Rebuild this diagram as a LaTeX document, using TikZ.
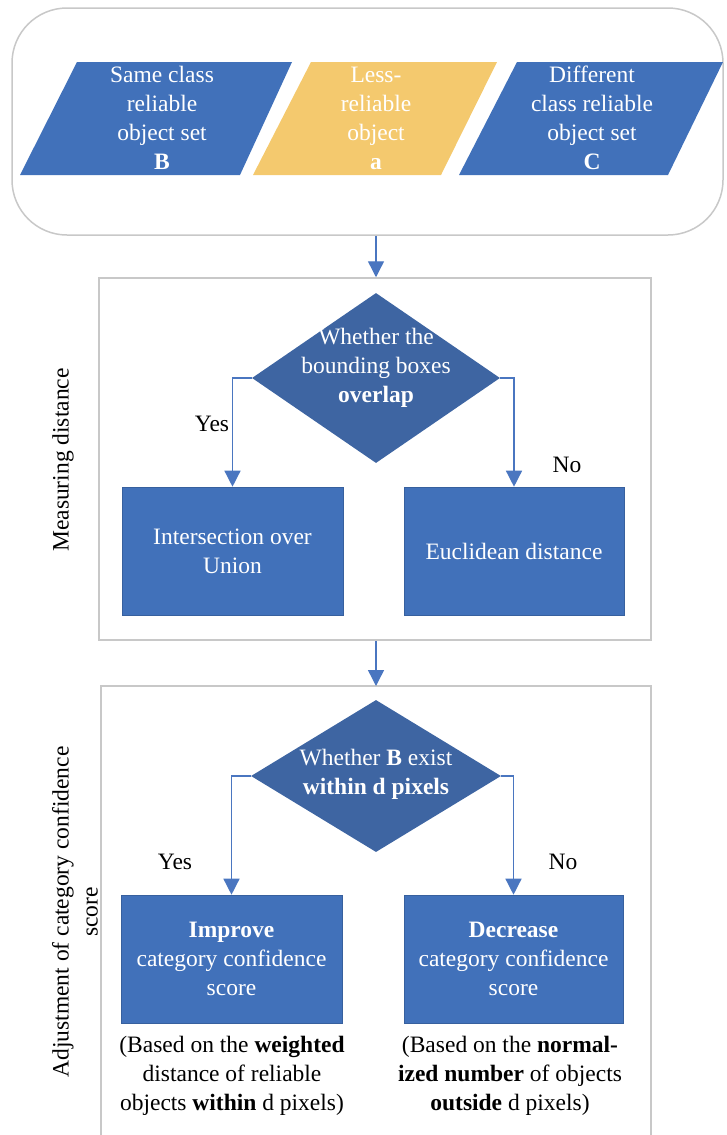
\documentclass[tikz,border=0pt]{standalone}
\usepackage{fontspec}
\setmainfont{Liberation Serif}
\usetikzlibrary{shapes.geometric,arrows.meta}
\definecolor{boxblue}{HTML}{4171BA}
\definecolor{diablue}{HTML}{3E65A2}
\definecolor{gold}{HTML}{F4C96E}
\definecolor{frame}{HTML}{C8C8C8}
\definecolor{linkblue}{HTML}{4A76C0}
\tikzset{
  txt/.style={font=\fontsize{23.5}{29}\selectfont, align=center, inner sep=0pt},
  wtxt/.style={txt, text=white},
  container/.style={draw=frame, line width=1.5pt, inner sep=0pt},
  stepbox/.style={fill=boxblue, draw=boxblue!85!black, line width=0.6pt, wtxt},
  decide/.style={diamond, fill=diablue, inner sep=0pt},
  arr/.style={draw=linkblue, line width=1.4pt, -{Triangle[width=16pt,length=16pt]}},
}
\begin{document}
\begin{tikzpicture}[x=1pt,y=-1pt]
\useasboundingbox (0,0) rectangle (726,1135);
% top container
\node[container, rounded corners=55pt, minimum width=711pt, minimum height=227pt] (top) at (367.5,121.5) {};
% parallelograms
\fill[boxblue] (77,62) -- (292,62) -- (240,175) -- (20,175) -- cycle;
\fill[gold] (311,62) -- (497,62) -- (441,175) -- (253,175) -- cycle;
\fill[boxblue] (517,62) -- (723,62) -- (668,175) -- (459,175) -- cycle;
\node[wtxt] (setB) at (162,118) {Same class\\reliable\\object set\\\textbf{B}};
\node[wtxt] (obja) at (376,118) {Less-\\reliable\\object\\\textbf{a}};
\node[wtxt] (setC) at (592,118) {Different\\class reliable\\object set\\\textbf{C}};
% box 2
\node[container, minimum width=552pt, minimum height=362pt] (box2) at (375,459) {};
\node[decide, minimum width=248pt, minimum height=170pt] (d1) at (376,378) {};
\node[wtxt] (d1t) at (376,368) {Whether the\\bounding boxes\\\textbf{overlap}};
\node[stepbox, minimum width=221pt, minimum height=128pt] (iou) at (232.5,551) {Intersection over\\Union};
\node[stepbox, minimum width=220pt, minimum height=128pt] (euc) at (514,551) {Euclidean distance};
\node[txt] (yes1) at (212,424) {Yes};
\node[txt] (no1) at (567,465) {No};
\node[txt, rotate=90] (lab1) at (63,460) {Measuring distance};
% box 3
\draw[frame, line width=1.5pt] (101,1160) -- (101,686) -- (651,686) -- (651,1160);
\coordinate (box3top) at (376,686);
\node[decide, minimum width=250pt, minimum height=152pt] (d2) at (376,776) {};
\node[wtxt] (d2t) at (376,774) {Whether \textbf{B} exist\\\textbf{within d pixels}};
\node[stepbox, minimum width=221pt, minimum height=128pt] (imp) at (231.5,959) {\textbf{Improve}\\category confidence\\score};
\node[stepbox, minimum width=219pt, minimum height=128pt] (dec) at (513.5,959) {\textbf{Decrease}\\category confidence\\score};
\node[txt] (yes2) at (175,862) {Yes};
\node[txt] (no2) at (563,862) {No};
\node[txt] (note1) at (232,1076) {(Based on the \textbf{weighted}\\distance of reliable\\objects \textbf{within} d pixels)};
\node[txt] (note2) at (510,1076) {(Based on the \textbf{normal-}\\\textbf{ized number} of objects\\\textbf{outside} d pixels)};
\node[txt, rotate=90] (lab2) at (75,912) {Adjustment of category confidence\\score};
% connectors
\draw[arr] (top.south -| d1.north) -- (box2.north -| d1.north);
\draw[arr] (d1.west) -| (iou.north);
\draw[arr] (d1.east) -| (euc.north);
\draw[arr] (box2.south -| d1.north) -- (box3top);
\draw[arr] (d2.west) -| (imp.north);
\draw[arr] (d2.east) -| (dec.north);
\end{tikzpicture}
\end{document}
